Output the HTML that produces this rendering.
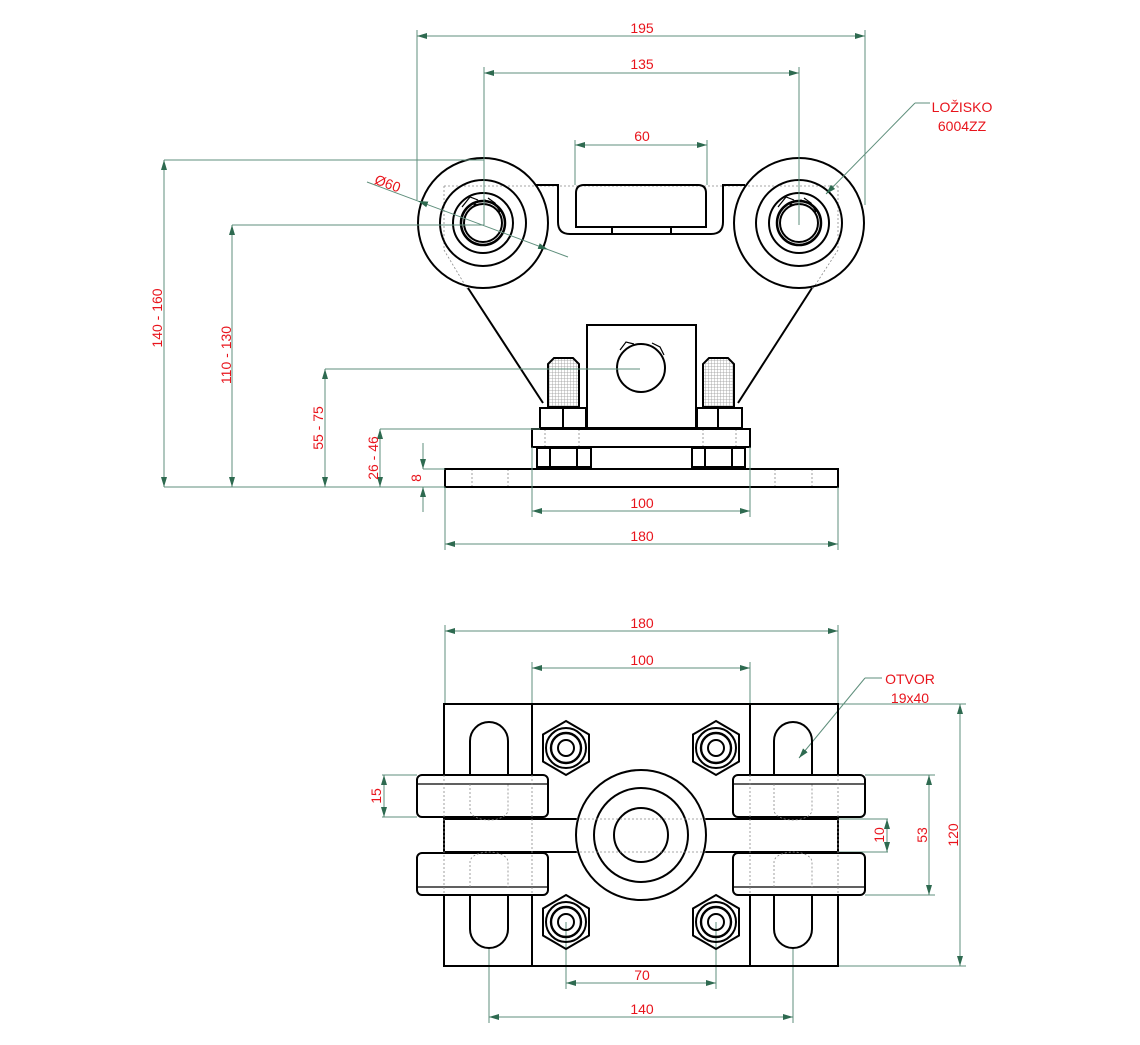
<!DOCTYPE html>
<html><head><meta charset="utf-8"><style>
html,body{margin:0;padding:0;background:#fff}
svg{display:block}
text{font-family:"Liberation Sans",sans-serif;font-size:14px;fill:#e8141c}
.d{stroke:#5f8f7c;stroke-width:1;fill:none}
.k{stroke:#000;stroke-width:2;fill:none}
.t{stroke:#000;stroke-width:1.2;fill:none}
.h{stroke:#888;stroke-width:0.8;fill:none;stroke-dasharray:2 2}
</style></head><body>
<svg width="1140" height="1045" viewBox="0 0 1140 1045" xmlns="http://www.w3.org/2000/svg">
<defs>
<marker id="a" viewBox="0 0 10 6" refX="10" refY="3" markerWidth="10" markerHeight="6" orient="auto-start-reverse" markerUnits="userSpaceOnUse"><path d="M0,0 L10,3 L0,6 z" fill="#2e6a50"/></marker>
<pattern id="hat" width="3" height="3" patternUnits="userSpaceOnUse"><rect width="3" height="3" fill="#fff"/><path d="M0,0h3M0,0v3" stroke="#999" stroke-width="0.8"/></pattern>
</defs>

<!-- ===== TOP VIEW part ===== -->
<g class="h">
<line x1="444" y1="186" x2="838" y2="186"/>
<line x1="444" y1="186" x2="444" y2="250"/><line x1="838" y1="186" x2="838" y2="250"/>
<line x1="444" y1="250" x2="468" y2="290"/><line x1="838" y1="250" x2="812" y2="290"/>
<line x1="587" y1="403" x2="696" y2="403"/>
<line x1="472" y1="469" x2="472" y2="487"/><line x1="508" y1="469" x2="508" y2="487"/>
<line x1="775" y1="469" x2="775" y2="487"/><line x1="812" y1="469" x2="812" y2="487"/>
<line x1="545" y1="429" x2="545" y2="447"/><line x1="579" y1="429" x2="579" y2="447"/>
<line x1="703" y1="429" x2="703" y2="447"/><line x1="736" y1="429" x2="736" y2="447"/>
</g>
<g class="k">
<path d="M535,185 H558 V222 Q558,234 570,234 H711 Q723,234 723,222 V185 H745"/>
<path d="M576,227 V193 Q576,185 584,185 H698 Q706,185 706,193 V227 Z"/>
<line x1="612" y1="227" x2="612" y2="234"/><line x1="671" y1="227" x2="671" y2="234"/>
<line x1="468" y1="288" x2="543" y2="403"/><line x1="812" y1="288" x2="738" y2="403"/>
<circle cx="483" cy="223" r="65"/><circle cx="483" cy="223" r="43"/><circle cx="483" cy="223" r="30"/>
<circle cx="483" cy="223" r="22" stroke-width="2.5"/><circle cx="483" cy="223" r="19"/>
<circle cx="799" cy="223" r="65"/><circle cx="799" cy="223" r="43"/><circle cx="799" cy="223" r="30"/>
<circle cx="799" cy="223" r="22" stroke-width="2.5"/><circle cx="799" cy="223" r="19"/>
<rect x="587" y="325" width="109" height="103" fill="#fff"/>
<circle cx="641" cy="368" r="24"/>
<path d="M548,407 V364 L554,358 H573 L579,364 V407 Z" fill="url(#hat)"/>
<path d="M703,407 V364 L709,358 H728 L734,364 V407 Z" fill="url(#hat)"/>
<rect x="540" y="408" width="46" height="20"/><line x1="563" y1="408" x2="563" y2="428"/>
<rect x="697" y="408" width="45" height="20"/><line x1="718" y1="408" x2="718" y2="428"/>
<rect x="532" y="429" width="218" height="18"/>
<rect x="537" y="448" width="54" height="19"/><line x1="550" y1="448" x2="550" y2="467"/><line x1="577" y1="448" x2="577" y2="467"/>
<rect x="692" y="448" width="53" height="19"/><line x1="705" y1="448" x2="705" y2="467"/><line x1="732" y1="448" x2="732" y2="467"/>
<rect x="445" y="469" width="393" height="18"/>
</g>
<g class="t">
<path d="M462,207 L470,197 L478,200 M488,198 L495,203 L500,212"/>
<path d="M778,207 L786,197 L794,200 M804,198 L811,203 L816,212"/>
<path d="M620,350 L626,342 L634,344 M652,343 L660,347 L664,355"/>
</g>
<circle cx="475" cy="205" r="1.5"/><circle cx="485" cy="201" r="1.5"/>
<circle cx="791" cy="205" r="1.5"/><circle cx="801" cy="201" r="1.5"/>

<!-- ===== TOP VIEW dims ===== -->
<g class="d">
<line x1="417" y1="30" x2="417" y2="200"/><line x1="865" y1="30" x2="865" y2="205"/>
<line x1="417" y1="36" x2="865" y2="36" marker-start="url(#a)" marker-end="url(#a)"/>
<line x1="484" y1="67" x2="484" y2="225"/><line x1="799" y1="67" x2="799" y2="225"/>
<line x1="484" y1="73" x2="799" y2="73" marker-start="url(#a)" marker-end="url(#a)"/>
<line x1="575" y1="140" x2="575" y2="185"/><line x1="707" y1="140" x2="707" y2="185"/>
<line x1="575" y1="145" x2="707" y2="145" marker-start="url(#a)" marker-end="url(#a)"/>
<line x1="164" y1="160" x2="484" y2="160"/>
<line x1="232" y1="225" x2="484" y2="225"/>
<line x1="325" y1="369" x2="640" y2="369"/>
<line x1="380" y1="429" x2="540" y2="429"/>
<line x1="423" y1="469" x2="445" y2="469"/>
<line x1="164" y1="487" x2="445" y2="487"/>
<line x1="164" y1="160" x2="164" y2="487" marker-start="url(#a)" marker-end="url(#a)"/>
<line x1="232" y1="225" x2="232" y2="487" marker-start="url(#a)" marker-end="url(#a)"/>
<line x1="325" y1="369" x2="325" y2="487" marker-start="url(#a)" marker-end="url(#a)"/>
<line x1="380" y1="429" x2="380" y2="487" marker-start="url(#a)" marker-end="url(#a)"/>
<line x1="423" y1="443" x2="423" y2="469" marker-end="url(#a)"/>
<line x1="423" y1="512" x2="423" y2="487" marker-end="url(#a)"/>
<line x1="532" y1="447" x2="532" y2="517"/><line x1="750" y1="447" x2="750" y2="517"/>
<line x1="532" y1="511" x2="750" y2="511" marker-start="url(#a)" marker-end="url(#a)"/>
<line x1="445" y1="487" x2="445" y2="550"/><line x1="838" y1="487" x2="838" y2="550"/>
<line x1="445" y1="544" x2="838" y2="544" marker-start="url(#a)" marker-end="url(#a)"/>
<line x1="367" y1="182" x2="568" y2="257"/>
<line x1="418" y1="201" x2="548" y2="249.5" marker-start="url(#a)" marker-end="url(#a)" stroke-opacity="0"/>
<line x1="915" y1="103" x2="930" y2="103"/>
<line x1="915" y1="103" x2="826" y2="194" marker-end="url(#a)"/>
</g>
<text x="642" y="33" text-anchor="middle">195</text>
<text x="642" y="69" text-anchor="middle">135</text>
<text x="642" y="141" text-anchor="middle">60</text>
<text x="386" y="188" text-anchor="middle" transform="rotate(20 386 188)">Ø60</text>
<text x="962" y="112" text-anchor="middle">LOŽISKO</text>
<text x="962" y="131" text-anchor="middle">6004ZZ</text>
<text transform="translate(162,318) rotate(-90)" text-anchor="middle">140 - 160</text>
<text transform="translate(231,355) rotate(-90)" text-anchor="middle">110 - 130</text>
<text transform="translate(323,428) rotate(-90)" text-anchor="middle">55 - 75</text>
<text transform="translate(378,458) rotate(-90)" text-anchor="middle">26 - 46</text>
<text transform="translate(421,478) rotate(-90)" text-anchor="middle">8</text>
<text x="642" y="508" text-anchor="middle">100</text>
<text x="642" y="541" text-anchor="middle">180</text>

<!-- ===== BOTTOM VIEW dims ===== -->
<g class="d">
<line x1="445" y1="625" x2="445" y2="704"/><line x1="838" y1="625" x2="838" y2="704"/>
<line x1="445" y1="631" x2="838" y2="631" marker-start="url(#a)" marker-end="url(#a)"/>
<line x1="532" y1="662" x2="532" y2="704"/><line x1="750" y1="662" x2="750" y2="704"/>
<line x1="532" y1="668" x2="750" y2="668" marker-start="url(#a)" marker-end="url(#a)"/>
<line x1="838" y1="704" x2="966" y2="704"/><line x1="838" y1="966" x2="966" y2="966"/>
<line x1="960" y1="704" x2="960" y2="966" marker-start="url(#a)" marker-end="url(#a)"/>
<line x1="865" y1="775" x2="935" y2="775"/><line x1="865" y1="895" x2="935" y2="895"/>
<line x1="929" y1="775" x2="929" y2="895" marker-start="url(#a)" marker-end="url(#a)"/>
<line x1="838" y1="819" x2="888" y2="819"/><line x1="838" y1="852" x2="888" y2="852"/>
<line x1="887" y1="819" x2="887" y2="852" marker-start="url(#a)" marker-end="url(#a)"/>
<line x1="382" y1="775" x2="417" y2="775"/><line x1="382" y1="817" x2="417" y2="817"/>
<line x1="384" y1="775" x2="384" y2="817" marker-start="url(#a)" marker-end="url(#a)"/>
<line x1="566" y1="922" x2="566" y2="989"/><line x1="716" y1="922" x2="716" y2="989"/>
<line x1="566" y1="983" x2="716" y2="983" marker-start="url(#a)" marker-end="url(#a)"/>
<line x1="489" y1="948" x2="489" y2="1023"/><line x1="793" y1="948" x2="793" y2="1023"/>
<line x1="489" y1="1017" x2="793" y2="1017" marker-start="url(#a)" marker-end="url(#a)"/>
<line x1="865" y1="678" x2="882" y2="678"/>
<line x1="865" y1="678" x2="799" y2="758" marker-end="url(#a)"/>
</g>
<text x="642" y="628" text-anchor="middle">180</text>
<text x="642" y="665" text-anchor="middle">100</text>
<text x="910" y="684" text-anchor="middle">OTVOR</text>
<text x="910" y="703" text-anchor="middle">19x40</text>
<text transform="translate(958,835) rotate(-90)" text-anchor="middle">120</text>
<text transform="translate(927,835) rotate(-90)" text-anchor="middle">53</text>
<text transform="translate(884,835) rotate(-90)" text-anchor="middle">10</text>
<text transform="translate(381,796) rotate(-90)" text-anchor="middle">15</text>
<text x="642" y="980" text-anchor="middle">70</text>
<text x="642" y="1014" text-anchor="middle">140</text>

<!-- ===== BOTTOM VIEW part ===== -->
<g class="k">
<rect x="444" y="704" width="394" height="262"/>
<line x1="532" y1="704" x2="532" y2="966"/><line x1="750" y1="704" x2="750" y2="966"/>
<path d="M470,775 V741 A19,19 0 0 1 508,741 V775"/>
<path d="M470,895 V929 A19,19 0 0 0 508,929 V895"/>
<path d="M774,775 V741 A19,19 0 0 1 812,741 V775"/>
<path d="M774,895 V929 A19,19 0 0 0 812,929 V895"/>
<rect x="444" y="819" width="394" height="33" fill="#fff"/>
<rect x="417" y="775" width="131" height="42" rx="5" fill="#fff"/>
<rect x="417" y="853" width="131" height="42" rx="5" fill="#fff"/>
<rect x="733" y="775" width="132" height="42" rx="5" fill="#fff"/>
<rect x="733" y="853" width="132" height="42" rx="5" fill="#fff"/>
<circle cx="641" cy="835" r="65" fill="#fff"/><circle cx="641" cy="835" r="47"/><circle cx="641" cy="835" r="27"/>
</g>
<g class="t">
<line x1="417" y1="784" x2="548" y2="784"/><line x1="417" y1="887" x2="548" y2="887"/>
<line x1="733" y1="784" x2="865" y2="784"/><line x1="733" y1="887" x2="865" y2="887"/>
</g>
<g class="h">
<path d="M470,784 V810 A19,10 0 0 0 508,810 V784"/>
<path d="M470,887 V862 A19,10 0 0 1 508,862 V887"/>
<path d="M774,784 V810 A19,10 0 0 0 812,810 V784"/>
<path d="M774,887 V862 A19,10 0 0 1 812,862 V887"/>
<line x1="444" y1="775" x2="444" y2="895"/><line x1="532" y1="775" x2="532" y2="895"/>
<line x1="750" y1="775" x2="750" y2="895"/><line x1="838" y1="775" x2="838" y2="895"/>
<line x1="576" y1="819" x2="706" y2="819"/><line x1="576" y1="852" x2="706" y2="852"/>
</g>
<g class="k" stroke-width="1.6">
<g transform="translate(566,748)"><polygon points="0,-27 23,-13.5 23,13.5 0,27 -23,13.5 -23,-13.5"/><circle r="20"/><circle r="15" stroke-width="2.4"/><circle r="8"/></g>
<g transform="translate(716,748)"><polygon points="0,-27 23,-13.5 23,13.5 0,27 -23,13.5 -23,-13.5"/><circle r="20"/><circle r="15" stroke-width="2.4"/><circle r="8"/></g>
<g transform="translate(566,922)"><polygon points="0,-27 23,-13.5 23,13.5 0,27 -23,13.5 -23,-13.5"/><circle r="20"/><circle r="15" stroke-width="2.4"/><circle r="8"/></g>
<g transform="translate(716,922)"><polygon points="0,-27 23,-13.5 23,13.5 0,27 -23,13.5 -23,-13.5"/><circle r="20"/><circle r="15" stroke-width="2.4"/><circle r="8"/></g>
</g>
</svg>
</body></html>
